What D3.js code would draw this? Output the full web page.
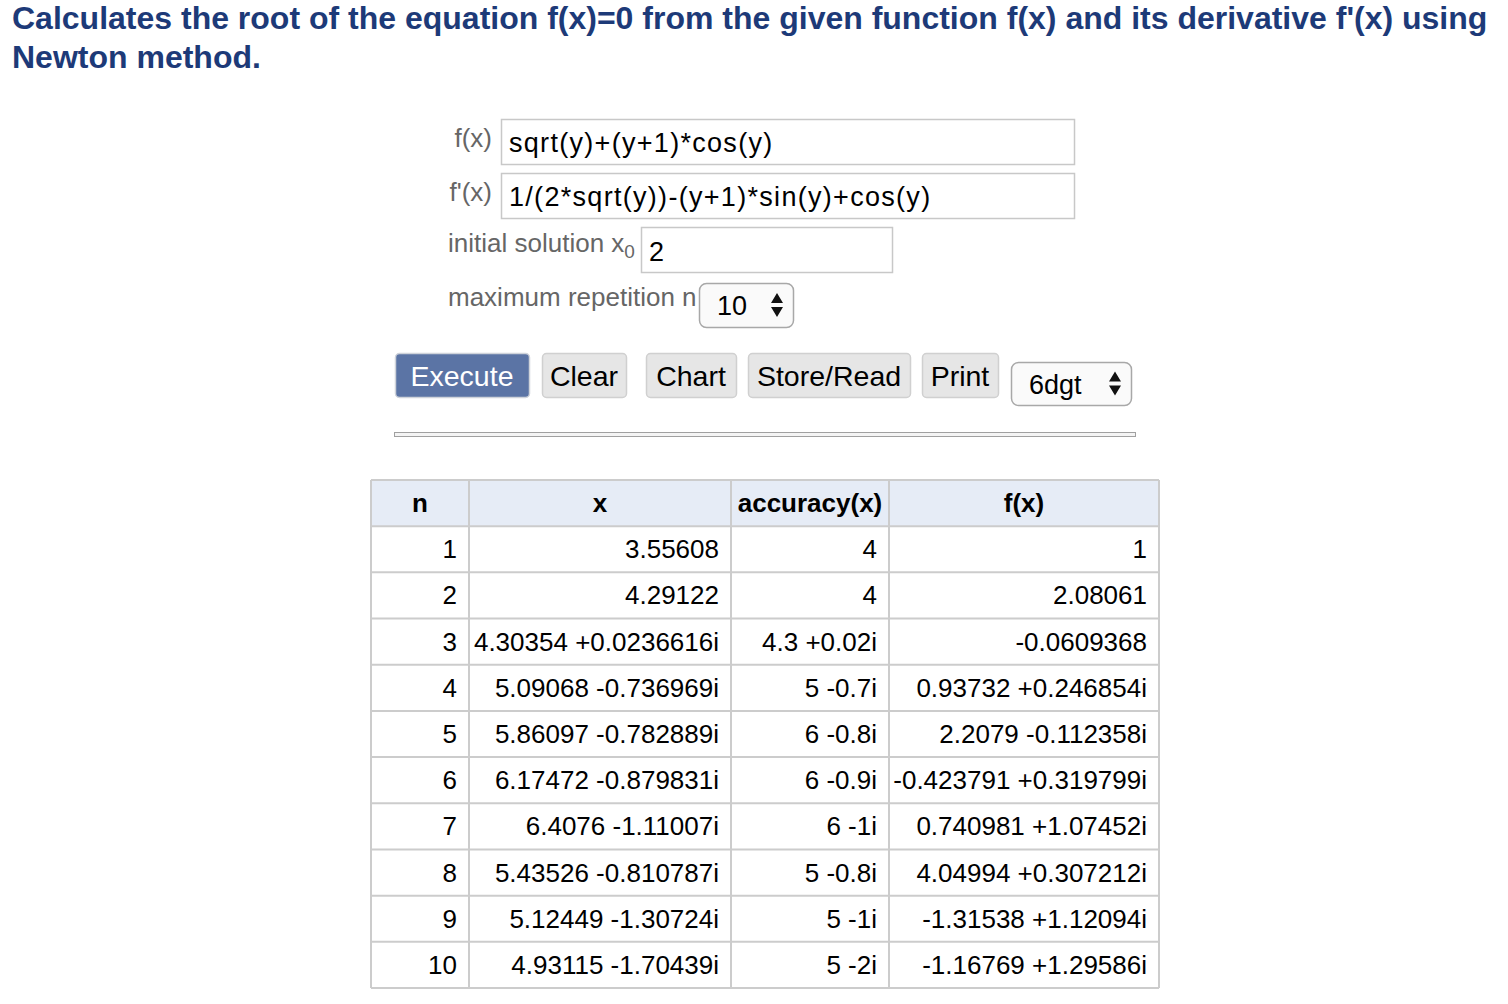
<!DOCTYPE html>
<html>
<head>
<meta charset="utf-8">
<script src="https://cdn.jsdelivr.net/npm/d3@7"></script>
<style>
  body { margin: 0; background: #fff; }
  text { font-family: "Liberation Sans", Arial, sans-serif; }
</style>
</head>
<body>
<div id="page"></div>
<script>
// table data
var headers = ["n", "x", "accuracy(x)", "f(x)"];
var nValues = ["1", "2", "3", "4", "5", "6", "7", "8", "9", "10"];
var xValues = ["3.55608", "4.29122", "4.30354 +0.0236616i", "5.09068 -0.736969i", "5.86097 -0.782889i",
  "6.17472 -0.879831i", "6.4076 -1.11007i", "5.43526 -0.810787i", "5.12449 -1.30724i", "4.93115 -1.70439i"];
var accValues = ["4", "4", "4.3 +0.02i", "5 -0.7i", "6 -0.8i", "6 -0.9i", "6 -1i", "5 -0.8i", "5 -1i", "5 -2i"];
var fxValues = ["1", "2.08061", "-0.0609368", "0.93732 +0.246854i", "2.2079 -0.112358i",
  "-0.423791 +0.319799i", "0.740981 +1.07452i", "4.04994 +0.307212i", "-1.31538 +1.12094i", "-1.16769 +1.29586i"];

var titleLines = ["Calculates the root of the equation f(x)=0 from the given function f(x) and its derivative f'(x) using",
  "Newton method."];
var fText = "sqrt(y)+(y+1)*cos(y)";
var dfText = "1/(2*sqrt(y))-(y+1)*sin(y)+cos(y)";
var x0Text = "2";
var repText = "10";
var buttons = ["Execute", "Clear", "Chart", "Store/Read", "Print"];
var digitsText = "6dgt";

var width = 1508, height = 1004;

var svg = d3.select("#page").append("svg")
  .attr("width", width)
  .attr("height", height);

// title
svg.selectAll("text.title")
  .data(titleLines)
  .enter()
  .append("text")
  .attr("class", "title")
  .attr("x", 12)
  .attr("y", function(d, i) { return 29 + i * 39; })
  .attr("font-size", 32)
  .attr("font-weight", "bold")
  .attr("fill", "#1d3a78")
  .text(function(d) { return d; });

// form: label + input box
function inputRow(label, value, lx, bx, bw, y) {
  svg.append("text")
    .attr("x", lx).attr("y", y + 28)
    .attr("text-anchor", "end")
    .attr("font-size", 26)
    .attr("fill", "#666")
    .text(label);
  svg.append("rect")
    .attr("x", bx + 0.5).attr("y", y + 0.5)
    .attr("width", bw).attr("height", 45)
    .attr("fill", "#fff")
    .attr("stroke", "#c8c8c8")
    .attr("stroke-width", 1.5);
  svg.append("text")
    .attr("x", bx + 8).attr("y", y + 33)
    .attr("font-size", 27)
    .attr("letter-spacing", 1.3)
    .attr("fill", "#000")
    .text(value);
}

inputRow("f(x)", fText, 492, 501, 573, 119);
inputRow("f'(x)", dfText, 492, 501, 573, 173);

// initial solution
var x0Label = svg.append("text")
  .attr("x", 448).attr("y", 252)
  .attr("font-size", 26)
  .attr("fill", "#666");
x0Label.append("tspan").text("initial solution x");
x0Label.append("tspan").attr("font-size", 19).attr("dy", 6).text("0");
svg.append("rect")
  .attr("x", 641.5).attr("y", 227.5)
  .attr("width", 251).attr("height", 45)
  .attr("fill", "#fff").attr("stroke", "#c8c8c8").attr("stroke-width", 1.5);
svg.append("text")
  .attr("x", 649).attr("y", 261)
  .attr("font-size", 27)
  .text(x0Text);

// max repetition + select
svg.append("text")
  .attr("x", 448).attr("y", 306)
  .attr("font-size", 26)
  .attr("fill", "#666")
  .text("maximum repetition n");

function selectBox(x, y, w, h, value) {
  svg.append("rect")
    .attr("x", x + 0.5).attr("y", y + 0.5)
    .attr("width", w).attr("height", h)
    .attr("rx", 7)
    .attr("fill", "#fafafa")
    .attr("stroke", "#a8a8a8")
    .attr("stroke-width", 1.5);
  svg.append("text")
    .attr("x", x + 18).attr("y", y + h / 2 + 10)
    .attr("font-size", 27)
    .text(value);
  var ax = x + w - 16;
  var ay = y + h / 2;
  svg.append("path")
    .attr("d", "M" + (ax - 6) + "," + (ay - 2) + "L" + ax + "," + (ay - 12) + "L" + (ax + 6) + "," + (ay - 2) + "Z" +
      "M" + (ax - 6) + "," + (ay + 2) + "L" + ax + "," + (ay + 12) + "L" + (ax + 6) + "," + (ay + 2) + "Z")
    .attr("fill", "#111");
}

selectBox(699, 283, 94, 44, repText);

// buttons
var btnX = [395, 542, 646, 748, 922];
var btnW = [134, 84, 90, 162, 76];
var btn = svg.selectAll("g.btn")
  .data(buttons)
  .enter()
  .append("g")
  .attr("class", "btn")
  .attr("transform", function(d, i) { return "translate(" + btnX[i] + ",353)"; });

btn.append("rect")
  .attr("x", 0.5).attr("y", 0.5)
  .attr("width", function(d, i) { return btnW[i]; })
  .attr("height", 44)
  .attr("rx", 4)
  .attr("fill", function(d, i) { return i === 0 ? "#5b74a5" : "#e6e6e6"; })
  .attr("stroke", function(d, i) { return i === 0 ? "#cfd3da" : "#d0d0d0"; })
  .attr("stroke-width", 1.5);

btn.append("text")
  .attr("x", function(d, i) { return btnW[i] / 2; })
  .attr("y", 33)
  .attr("text-anchor", "middle")
  .attr("font-size", 28.5)
  .attr("fill", function(d, i) { return i === 0 ? "#fff" : "#000"; })
  .text(function(d) { return d; });

selectBox(1011, 362, 120, 43, digitsText);

// horizontal rule
svg.append("rect")
  .attr("x", 394.5).attr("y", 432.5)
  .attr("width", 741).attr("height", 4)
  .attr("fill", "#f4f4f4")
  .attr("stroke", "#a0a0a0")
  .attr("stroke-width", 1);

// table
var colEdges = [371, 469, 731, 889, 1159];
var rowKeys = ["head"].concat(nValues);
var yScale = d3.scaleBand()
  .domain(rowKeys)
  .range([480, 988]);

var columns = [nValues, xValues, accValues, fxValues];

var table = svg.append("g");

table.append("rect")
  .attr("x", colEdges[0]).attr("y", yScale("head"))
  .attr("width", colEdges[4] - colEdges[0])
  .attr("height", yScale.bandwidth())
  .attr("fill", "#e6ecf6");

// header
table.selectAll("text.head")
  .data(headers)
  .enter()
  .append("text")
  .attr("class", "head")
  .attr("x", function(d, i) { return (colEdges[i] + colEdges[i + 1]) / 2; })
  .attr("y", yScale("head") + yScale.bandwidth() / 2 + 9)
  .attr("text-anchor", "middle")
  .attr("font-size", 26)
  .attr("font-weight", "bold")
  .attr("fill", "#000")
  .text(function(d) { return d; });

// cells
columns.forEach(function(col, ci) {
  table.selectAll("text.c" + ci)
    .data(col)
    .enter()
    .append("text")
    .attr("class", "c" + ci)
    .attr("x", colEdges[ci + 1] - 12)
    .attr("y", function(d, i) { return yScale(nValues[i]) + yScale.bandwidth() / 2 + 9; })
    .attr("text-anchor", "end")
    .attr("font-size", 26)
    .attr("fill", "#000")
    .text(function(d) { return d; });
});

// grid lines
table.selectAll("line.h")
  .data(rowKeys.concat(["end"]))
  .enter()
  .append("line")
  .attr("x1", colEdges[0]).attr("x2", colEdges[4])
  .attr("y1", function(d) { return d === "end" ? 988 : yScale(d); })
  .attr("y2", function(d) { return d === "end" ? 988 : yScale(d); })
  .attr("stroke", "#cccccc")
  .attr("stroke-width", 2);

table.selectAll("line.v")
  .data(colEdges)
  .enter()
  .append("line")
  .attr("x1", function(d) { return d; }).attr("x2", function(d) { return d; })
  .attr("y1", 480).attr("y2", 988)
  .attr("stroke", "#cccccc")
  .attr("stroke-width", 2);
</script>
</body>
</html>
